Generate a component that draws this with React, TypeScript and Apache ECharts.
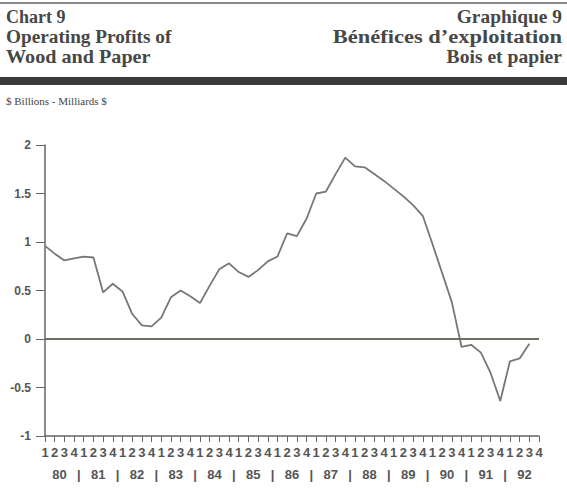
import React, { useEffect, useRef } from "react";
import * as echarts from "echarts";

const years = ["80", "81", "82", "83", "84", "85", "86", "87", "88", "89", "90", "91", "92"];
const quarterDigits = ["1", "2", "3", "4"];
const categories: string[] = years.flatMap((y) => quarterDigits.map((q) => `${y}Q${q}`));
const profits = [
  0.96, 0.88, 0.81, 0.83, 0.85, 0.84, 0.48, 0.57, 0.49, 0.26, 0.14, 0.13, 0.22,
  0.43, 0.5, 0.44, 0.37, 0.55, 0.72, 0.78, 0.69, 0.64, 0.71, 0.8, 0.85, 1.09,
  1.06, 1.24, 1.5, 1.52, 1.7, 1.87, 1.78, 1.77, 1.7, 1.63, 1.55, 1.47, 1.38,
  1.27, 0.98, 0.68, 0.38, -0.08, -0.06, -0.14, -0.35, -0.64, -0.23, -0.2, -0.05,
];
const yTicks = [-1, -0.5, 0, 0.5, 1, 1.5, 2];
const titleLeft = ["Chart 9", "Operating Profits of", "Wood and Paper"];
const titleRight = ["Graphique 9", "Bénéfices d’exploitation", "Bois et papier"];
const unitLabel = "$ Billions - Milliards $";

export default function App() {
  const ref = useRef<HTMLDivElement>(null);
  useEffect(() => {
    if (!ref.current) return;
    const chart = echarts.init(ref.current, null, { renderer: "svg" });
    const yearPos: number[] = [];
    const sepPos: number[] = [];
    years.forEach((_, k) => {
      yearPos.push(4 * k + 1.5);
      if (k < years.length - 1) sepPos.push(4 * k + 3.5);
    });
    const titleFont = {
      fontFamily: "Liberation Serif",
      fontWeight: "bold" as const,
      fontSize: 18,
      fill: "#474747",
    };
    const leftScale = [1.0, 1.07, 1.12];
    const rightScale = [1.08, 1.25, 1.09];
    const graphics: any[] = [
      { type: "rect", shape: { x: 0, y: 2, width: 567, height: 2 }, style: { fill: "#8a8a8a" } },
      { type: "rect", shape: { x: 0, y: 77, width: 567, height: 8 }, style: { fill: "#3a3a3a" } },
      {
        type: "text",
        x: 6,
        y: 101,
        style: { text: unitLabel, fontFamily: "Liberation Serif", fontSize: 11, fill: "#444", verticalAlign: "middle" },
      },
    ];
    titleLeft.forEach((t, i) => {
      graphics.push({
        type: "text",
        x: 6,
        y: 17 + i * 20,
        scaleX: leftScale[i],
        style: { ...titleFont, text: t, verticalAlign: "middle", align: "left" },
      });
    });
    titleRight.forEach((t, i) => {
      graphics.push({
        type: "text",
        x: 562,
        y: 17 + i * 20,
        scaleX: rightScale[i],
        style: { ...titleFont, text: t, verticalAlign: "middle", align: "right" },
      });
    });
    const labelFont = {
      fontFamily: "Liberation Sans",
      fontWeight: "bold" as const,
      fontSize: 13,
      color: "#555",
    };
    chart.setOption({
      animation: false,
      backgroundColor: "#fff",
      grid: { left: 45, right: 28, top: 145, bottom: 68, containLabel: false },
      graphic: graphics,
      xAxis: [
        {
          type: "category",
          data: categories,
          boundaryGap: false,
          axisLine: { onZero: false, lineStyle: { color: "#666", width: 1.5 } },
          axisTick: { show: true, interval: 0, length: 6, inside: false, lineStyle: { color: "#666" } },
          axisLabel: {
            ...labelFont,
            interval: 0,
            margin: 10,
            formatter: (v: string) => v.slice(-1),
          },
          splitLine: { show: false },
        },
        {
          type: "value",
          min: 0,
          max: categories.length - 1,
          position: "bottom",
          axisLine: { show: false, onZero: false },
          axisTick: { show: false },
          splitLine: { show: false },
          axisLabel: {
            ...labelFont,
            margin: 32,
            customValues: [...yearPos, ...sepPos],
            formatter: (v: number) => {
              const k = (v - 1.5) / 4;
              if (Math.abs(k - Math.round(k)) < 1e-6) return years[Math.round(k)];
              return "|";
            },
          },
        },
      ],
      yAxis: {
        type: "value",
        min: -1,
        max: 2,
        interval: 0.5,
        axisLine: { show: true, onZero: false, lineStyle: { color: "#666", width: 1.5 } },
        axisTick: { show: true, length: 9, lineStyle: { color: "#666" } },
        axisLabel: {
          ...labelFont,
          fontSize: 12,
          margin: 14,
          formatter: (v: number) => (yTicks.includes(v) ? String(v) : ""),
        },
        splitLine: { show: false },
      },
      series: [
        {
          type: "line",
          data: profits,
          xAxisIndex: 0,
          symbol: "none",
          lineStyle: { color: "#767874", width: 1.8 },
          markLine: {
            silent: true,
            symbol: "none",
            label: { show: false },
            lineStyle: { color: "#6b6f63", width: 2, type: "solid" },
            data: [{ yAxis: 0 }],
          },
        },
      ],
    });
    return () => chart.dispose();
  }, []);
  return (
    <div
      ref={ref}
      style={{ position: "fixed", left: 0, top: 0, width: 567, height: 504 }}
    />
  );
}
